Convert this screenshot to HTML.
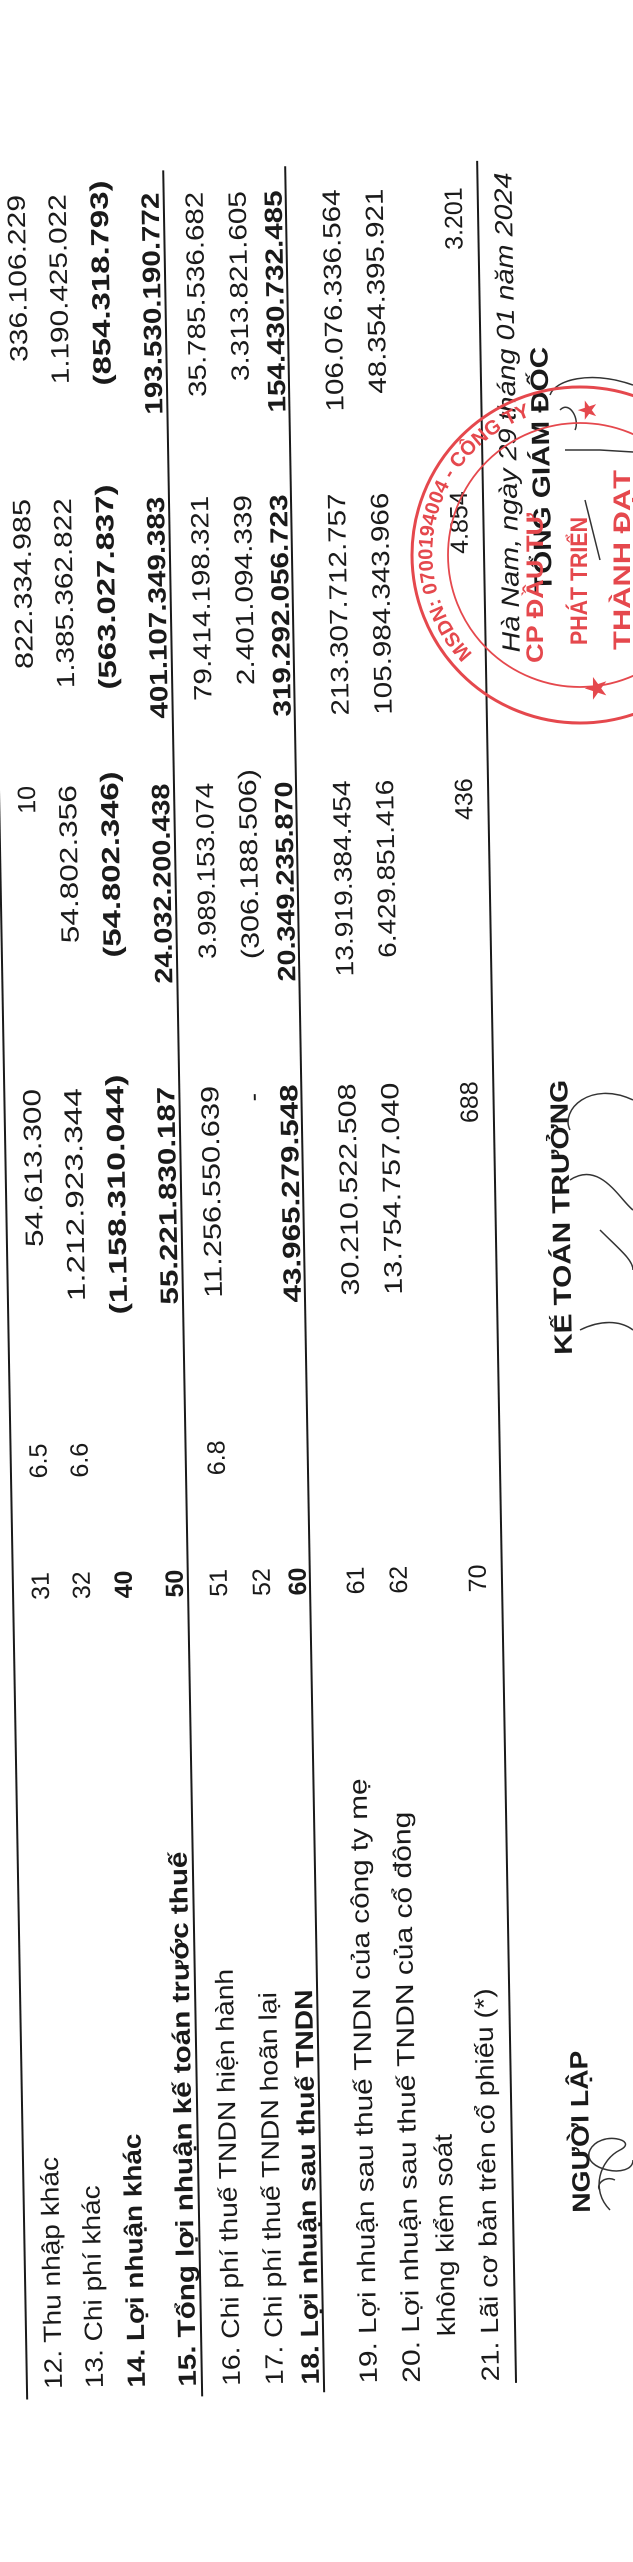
<!DOCTYPE html>
<html><head><meta charset="utf-8"><style>
html,body{margin:0;padding:0;background:#fff;}
svg{display:block;}
text{font-family:"Liberation Sans",Arial,sans-serif;fill:#1a1a1a;}
.l{font-size:25px;}
.n{font-size:25px;text-anchor:end;}
.c{font-size:25px;text-anchor:middle;}
.b{font-weight:bold;}
.s{fill:#e5484d;font-weight:bold;}
</style></head><body>
<svg width="633" height="2562" viewBox="0 0 633 2562" xmlns="http://www.w3.org/2000/svg">
<rect width="633" height="2562" fill="#fff"/>
<g transform="matrix(-0.0175,-1,1,-0.0175,0,2562)">
<!-- lines -->
<g stroke="#1a1a1a" stroke-width="2">
<line x1="162" y1="30" x2="2390" y2="30"/>
<line x1="162" y1="205" x2="2388" y2="205"/>
<line x1="164" y1="327" x2="2390" y2="327"/>
<line x1="170" y1="519" x2="2392" y2="519"/>
</g>
<!-- labels -->
<text class="l" x="172" y="65" textLength="232" lengthAdjust="spacingAndGlyphs">12. Thu nhập khác</text>
<text class="l" x="172" y="106" textLength="203" lengthAdjust="spacingAndGlyphs">13. Chi phí khác</text>
<text class="l b" x="172" y="148" textLength="254" lengthAdjust="spacingAndGlyphs">14. Lợi nhuận khác</text>
<text class="l b" x="172" y="199" textLength="535" lengthAdjust="spacingAndGlyphs">15. Tổng lợi nhuận kế toán trước thuế</text>
<text class="l" x="172" y="243" textLength="417" lengthAdjust="spacingAndGlyphs">16. Chi phí thuế TNDN hiện hành</text>
<text class="l" x="172" y="286" textLength="393" lengthAdjust="spacingAndGlyphs">17. Chi phí thuế TNDN hoãn lại</text>
<text class="l b" x="172" y="322" textLength="395" lengthAdjust="spacingAndGlyphs">18. Lợi nhuận sau thuế TNDN</text>
<text class="l" x="172" y="380" textLength="605" lengthAdjust="spacingAndGlyphs">19. Lợi nhuận sau thuế TNDN của công ty mẹ</text>
<text class="l" x="172" y="423" textLength="571" lengthAdjust="spacingAndGlyphs">20. Lợi nhuận sau thuế TNDN của cổ đông</text>
<text class="l" x="218" y="459" textLength="202" lengthAdjust="spacingAndGlyphs">không kiểm soát</text>
<text class="l" x="172" y="502" textLength="393" lengthAdjust="spacingAndGlyphs">21. Lãi cơ bản trên cổ phiếu (*)</text>
<!-- codes -->
<text class="c" x="975" y="66">31</text>
<text class="c" x="975" y="107">32</text>
<text class="c b" x="975" y="149">40</text>
<text class="c b" x="975" y="200">50</text>
<text class="c" x="975" y="244">51</text>
<text class="c" x="975" y="287">52</text>
<text class="c b" x="975" y="323">60</text>
<text class="c" x="975" y="381">61</text>
<text class="c" x="975" y="424">62</text>
<text class="c" x="975" y="503">70</text>
<text class="c" x="1100" y="66">6.5</text>
<text class="c" x="1100" y="107">6.6</text>
<text class="c" x="1100" y="244">6.8</text>
<!-- col1 -->
<g transform="translate(1472,0)">
<text class="n" x="0" y="66" textLength="158" lengthAdjust="spacingAndGlyphs">54.613.300</text>
<text class="n" x="0" y="107" textLength="213" lengthAdjust="spacingAndGlyphs">1.212.923.344</text>
<text class="n b" x="13" y="149" textLength="240" lengthAdjust="spacingAndGlyphs">(1.158.310.044)</text>
<text class="n b" x="0" y="200" textLength="218" lengthAdjust="spacingAndGlyphs">55.221.830.187</text>
<text class="n" x="0" y="244" textLength="212" lengthAdjust="spacingAndGlyphs">11.256.550.639</text>
<text class="n" x="-8" y="287">-</text>
<text class="n b" x="0" y="323" textLength="218" lengthAdjust="spacingAndGlyphs">43.965.279.548</text>
<text class="n" x="0" y="381" textLength="212" lengthAdjust="spacingAndGlyphs">30.210.522.508</text>
<text class="n" x="0" y="424" textLength="212" lengthAdjust="spacingAndGlyphs">13.754.757.040</text>
<text class="n" x="0" y="503">688</text>
</g>
<!-- col2 -->
<g transform="translate(1775,0)">
<text class="n" x="0" y="66">10</text>
<text class="n" x="0" y="107" textLength="158" lengthAdjust="spacingAndGlyphs">54.802.356</text>
<text class="n b" x="13" y="149" textLength="186" lengthAdjust="spacingAndGlyphs">(54.802.346)</text>
<text class="n b" x="0" y="200" textLength="200" lengthAdjust="spacingAndGlyphs">24.032.200.438</text>
<text class="n" x="0" y="244" textLength="176" lengthAdjust="spacingAndGlyphs">3.989.153.074</text>
<text class="n" x="13" y="287" textLength="190" lengthAdjust="spacingAndGlyphs">(306.188.506)</text>
<text class="n b" x="0" y="323" textLength="200" lengthAdjust="spacingAndGlyphs">20.349.235.870</text>
<text class="n" x="0" y="381" textLength="196" lengthAdjust="spacingAndGlyphs">13.919.384.454</text>
<text class="n" x="0" y="424" textLength="178" lengthAdjust="spacingAndGlyphs">6.429.851.416</text>
<text class="n" x="0" y="503">436</text>
</g>
<!-- col3 -->
<g transform="translate(2062,0)">
<text class="n" x="0" y="66" textLength="170" lengthAdjust="spacingAndGlyphs">822.334.985</text>
<text class="n" x="0" y="107" textLength="190" lengthAdjust="spacingAndGlyphs">1.385.362.822</text>
<text class="n b" x="13" y="149" textLength="205" lengthAdjust="spacingAndGlyphs">(563.027.837)</text>
<text class="n b" x="0" y="200" textLength="222" lengthAdjust="spacingAndGlyphs">401.107.349.383</text>
<text class="n" x="0" y="244" textLength="205" lengthAdjust="spacingAndGlyphs">79.414.198.321</text>
<text class="n" x="0" y="287" textLength="190" lengthAdjust="spacingAndGlyphs">2.401.094.339</text>
<text class="n b" x="0" y="323" textLength="222" lengthAdjust="spacingAndGlyphs">319.292.056.723</text>
<text class="n" x="0" y="381" textLength="222" lengthAdjust="spacingAndGlyphs">213.307.712.757</text>
<text class="n" x="0" y="424" textLength="222" lengthAdjust="spacingAndGlyphs">105.984.343.966</text>
<text class="n" x="0" y="503">4.854</text>
</g>
<!-- col4 -->
<g transform="translate(2366,0)">
<text class="n" x="0" y="66" textLength="167" lengthAdjust="spacingAndGlyphs">336.106.229</text>
<text class="n" x="0" y="107" textLength="190" lengthAdjust="spacingAndGlyphs">1.190.425.022</text>
<text class="n b" x="13" y="149" textLength="205" lengthAdjust="spacingAndGlyphs">(854.318.793)</text>
<text class="n b" x="0" y="200" textLength="222" lengthAdjust="spacingAndGlyphs">193.530.190.772</text>
<text class="n" x="0" y="244" textLength="205" lengthAdjust="spacingAndGlyphs">35.785.536.682</text>
<text class="n" x="0" y="287" textLength="190" lengthAdjust="spacingAndGlyphs">3.313.821.605</text>
<text class="n b" x="0" y="323" textLength="222" lengthAdjust="spacingAndGlyphs">154.430.732.485</text>
<text class="n" x="0" y="381" textLength="222" lengthAdjust="spacingAndGlyphs">106.076.336.564</text>
<text class="n" x="0" y="424" textLength="205" lengthAdjust="spacingAndGlyphs">48.354.395.921</text>
<text class="n" x="0" y="503">3.201</text>
</g>
<!-- signatures headings -->
<text class="l b" x="339" y="596" textLength="162" lengthAdjust="spacingAndGlyphs">NGƯỜI LẬP</text>
<text class="l b" x="1197" y="593" textLength="275" lengthAdjust="spacingAndGlyphs">KẾ TOÁN TRƯỞNG</text>
<text class="l" x="1900" y="553" font-style="italic" textLength="480" lengthAdjust="spacingAndGlyphs">Hà Nam, ngày 29 tháng 01 năm 2024</text>
<text class="l b" x="1960" y="586" textLength="245" lengthAdjust="spacingAndGlyphs">TỔNG GIÁM ĐỐC</text>
</g>
<!-- signatures (image coords) -->
<g fill="none" stroke="#333" stroke-width="1.5">
<path d="M610 2210 C590 2190 600 2160 620 2150 C640 2140 600 2130 590 2150 C580 2170 633 2180 633 2160"/>
<path d="M600 2190 C595 2185 605 2175 615 2180"/>
<path d="M570 1130 C560 1110 590 1080 633 1100"/>
<path d="M570 1180 C600 1160 620 1200 633 1210"/>
<path d="M580 1330 C600 1320 620 1320 633 1330"/>
<path d="M600 1230 C620 1250 633 1260 633 1270"/>
<path d="M550 395 C555 380 590 370 633 385"/>
<path d="M565 450 L600 450 L633 452"/>
<path d="M585 500 L600 560"/>
<path d="M560 410 C570 400 580 420 575 430"/>
</g>
<!-- stamp -->
<g fill="none" stroke="#e5484d">
<circle cx="580" cy="555" r="168" stroke-width="3"/>
<circle cx="580" cy="555" r="132" stroke-width="1.8"/>
</g>
<defs><path id="arc" d="M477 658 A145 145 0 0 1 652 429"/></defs>
<text class="s" font-size="20"><textPath href="#arc" startOffset="6">MSDN: 0700194004 - CÔNG TY</textPath></text>
<g fill="#e5484d" font-weight="bold">
<text class="s" font-size="24" transform="translate(543,663) rotate(-90)" textLength="150" lengthAdjust="spacingAndGlyphs">CP ĐẦU TƯ</text>
<text class="s" font-size="24" transform="translate(587,645) rotate(-90)" textLength="128" lengthAdjust="spacingAndGlyphs">PHÁT TRIỂN</text>
<text class="s" font-size="24" transform="translate(630,650) rotate(-90)" textLength="180" lengthAdjust="spacingAndGlyphs">THÀNH ĐẠT</text>
<text class="s" font-size="26" transform="translate(605,700) rotate(-90)">★</text>
<text class="s" font-size="22" transform="translate(595,420) rotate(-90)">★</text>
</g>
</svg>
</body></html>
